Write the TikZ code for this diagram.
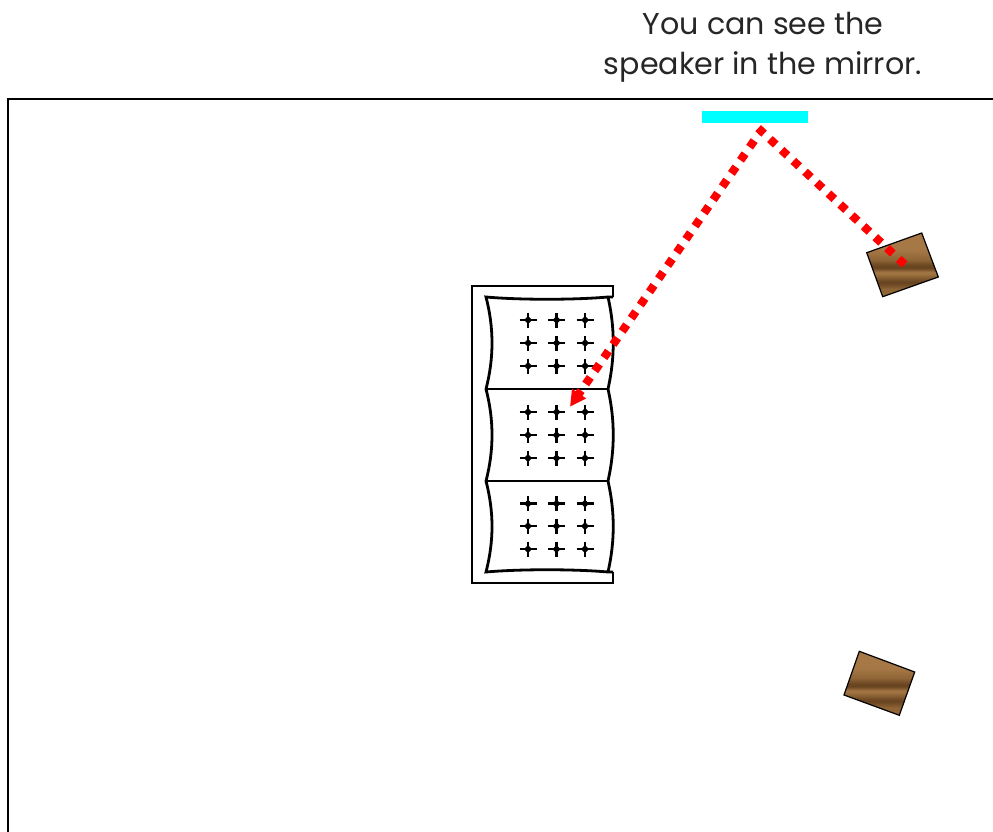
\documentclass[tikz,border=0pt]{standalone}
\usepackage{fontspec}
\setmainfont{Poppins}
\usetikzlibrary{
    arrows.meta,
    positioning
}
\definecolor{mirrorblue}{RGB}{0,255,255}
\definecolor{soundred}{RGB}{255,0,0}
\definecolor{woodlight}{HTML}{A67846}
\definecolor{woodmid}{HTML}{8F6536}
\definecolor{wooddark}{HTML}{694521}
\pgfdeclareverticalshading{woodgrain}{100bp}{
    color(0bp)=(woodmid);
    color(25bp)=(woodmid);
    color(31bp)=(woodmid);
    color(35.5bp)=(wooddark);
    color(37bp)=(wooddark);
    color(41bp)=(woodmid);
    color(44bp)=(woodlight);
    color(47.5bp)=(wooddark);
    color(49.5bp)=(wooddark);
    color(54bp)=(woodmid);
    color(62bp)=(woodlight);
    color(100bp)=(woodlight)
}
\tikzset{
    wall/.style={line width=1.5pt, line cap=rect},
    sofa/.style={line width=2.1pt, line join=miter},
    speaker/.style={draw=black, line width=0.9pt, shading=woodgrain},
    sightline/.style={soundred, line width=6.2pt, dash pattern=on 6pt off 6pt},
    tuft/.pic={
        \draw[line width=1.9pt] (-8.5,0) -- (8.5,0) (0,-7.5) -- (0,7.5);
        \fill (0,-4) -- (4,0) -- (0,4) -- (-4,0) -- cycle;
    }
}
\begin{document}
\begin{tikzpicture}[x=0.75pt, y=-0.75pt]
    \useasboundingbox (0, 0) rectangle (993, 832);
    % room
    \coordinate (wallbottom) at (8, 840);
    \coordinate (wallcorner) at (8, 99);
    \coordinate (wallright) at (1000, 99);
    \draw[wall] (wallbottom) -- (wallcorner) -- (wallright);
    \node[align=center, text=black!85, font=\fontsize{22.6pt}{30pt}\selectfont] (caption) at (763, 47.5) {You can see the\\speaker in the mirror.};
    % mirror
    \fill[mirrorblue] (701.5, 111) rectangle (807.5, 123);
    % sofa
    \draw[sofa] (613, 297) -- (613, 286) -- (472, 286) -- (472, 583) -- (613, 583) -- (613, 572);
    \draw[sofa] (613, 297) -- (608, 297) .. controls (574, 300) and (520, 300) .. (486, 297)
        .. controls (494, 328) and (494, 358) .. (486, 389)
        .. controls (494, 420) and (494, 450) .. (486, 481)
        .. controls (494, 512) and (494, 541) .. (486, 572)
        .. controls (520, 569) and (574, 569) .. (608, 572) -- (613, 572);
    \draw[sofa] (608, 297) .. controls (615, 328) and (615, 358) .. (608, 389)
        .. controls (615, 420) and (615, 450) .. (608, 481)
        .. controls (615, 512) and (615, 541) .. (608, 572);
    \draw[sofa] (486, 389) -- (608, 389);
    \draw[sofa] (486, 481) -- (608, 481);
    \foreach \ty in {320, 343, 366, 412, 435, 458, 503.5, 526, 549}
        \foreach \tx in {528, 556.5, 585}
            \pic at (\tx, \ty) {tuft};
    % speakers
    \draw[speaker] (866.7, 252.7) -- (921.7, 233) -- (938.3, 277) -- (882.7, 296.7) -- cycle;
    \draw[speaker] (859.3, 651.3) -- (914.7, 672) -- (899.3, 715.3) -- (844, 695) -- cycle;
    % path of the sound
    \coordinate (speakerdot) at (904.6, 264.4);
    \coordinate (reflect) at (758, 128);
    \coordinate (bounce) at (756.45, 137.3);
    \coordinate (seat) at (570, 406.7);
    \draw[sightline] (speakerdot) -- (reflect);
    \draw[sightline, dash phase=9pt, -{Triangle[length=12pt, width=12pt]}] (bounce) -- (seat);
\end{tikzpicture}
\end{document}
